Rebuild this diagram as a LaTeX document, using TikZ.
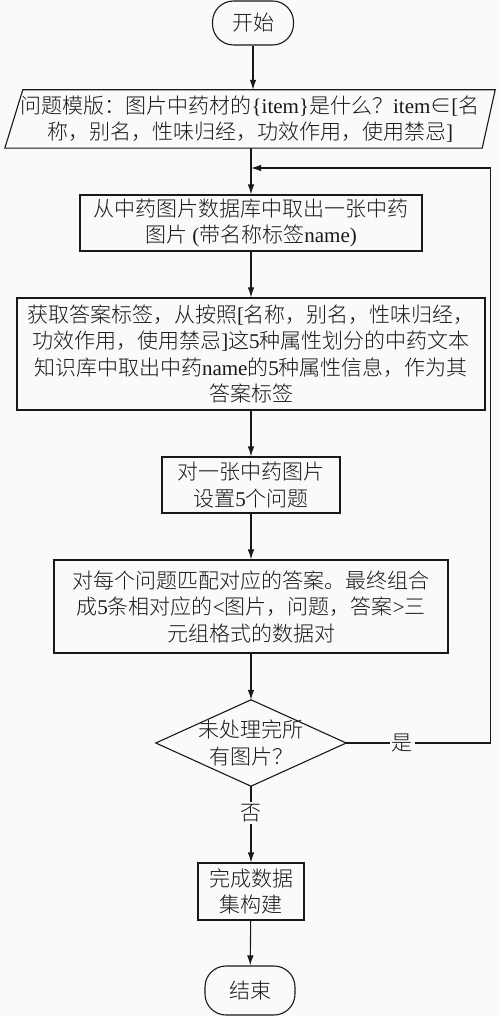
\documentclass[tikz,border=0pt]{standalone}
\usepackage{fontspec}
\setmainfont{Noto Sans CJK SC}[UprightFont=* Light]
\newfontfamily\latf{Liberation Serif}
\newcommand\lat[1]{{\latf #1}}
\usetikzlibrary{arrows.meta}
\definecolor{bg}{RGB}{252,249,249}
\definecolor{ink}{RGB}{25,25,25}
\begin{document}
\begin{tikzpicture}[x=1pt,y=-1pt,
  every node/.style={font=\fontsize{21}{26.5}\selectfont, text=ink},
  box/.style={draw=ink, line width=1.1pt, rectangle, inner sep=0pt, align=center},
  term/.style={box, rounded corners=21pt},
  plain/.style={rectangle, inner sep=0pt, align=center},
  outline/.style={draw=ink, line width=1.1pt},
  flow/.style={draw=ink, line width=1.1pt, -{Latex[length=10pt,width=6.5pt]}},
  lbl/.style={fill=bg, inner sep=2pt}]
\fill[bg] (0,0) rectangle (500,1016);
\useasboundingbox (0,0) rectangle (500,1016);

\node[term, minimum width=81pt, minimum height=44pt] (start) at (253,23) {开始};

\node[plain, minimum width=490pt, minimum height=58pt] (para) at (250,119)
  {问题模版：图片中药材的\lat{\{item\}}是什么？\lat{item}∈\lat{[}名\\
   称，别名，性味归经，功效作用，使用禁忌\lat{]}};
\draw[outline] ([xshift=18pt]para.north west) -- (para.north east)
  -- ([xshift=-13pt]para.south east) -- (para.south west) -- cycle;

\node[box, minimum width=342pt, minimum height=56pt] (box1) at (251,223)
  {从中药图片数据库中取出一张中药\\图片\lat{ (}带名称标签\lat{name)}};

\node[box, minimum width=468pt, minimum height=112pt] (box2) at (251,354)
  {获取答案标签，从按照\lat{[}名称，别名，性味归经，\\
   功效作用，使用禁忌\lat{]}这\lat{5}种属性划分的中药文本\\
   知识库中取出中药\lat{name}的\lat{5}种属性信息，作为其\\
   答案标签};

\node[box, minimum width=178pt, minimum height=56pt] (box3) at (251,485)
  {对一张中药图片\\设置\lat{5}个问题};

\node[box, minimum width=394pt, minimum height=93pt] (box4) at (251,606.5)
  {对每个问题匹配对应的答案。最终组合\\
   成\lat{5}条相对应的\lat{<}图片，问题，答案\lat{>}三\\
   元组格式的数据对};

\node[plain, minimum width=190pt, minimum height=86pt] (dia) at (251,743)
  {未处理完所\\有图片？};
\draw[outline] (dia.north) -- (dia.east) -- (dia.south) -- (dia.west) -- cycle;

\node[box, minimum width=106pt, minimum height=57pt] (box5) at (251,891.5)
  {完成数据\\集构建};

\node[term, minimum width=90pt, minimum height=49pt] (end) at (250,990.5) {结束};

\coordinate (j) at (251,168);

\draw[flow] (start.south) -- (start.south |- para.north);
\draw[flow] (box1.north |- para.south) -- (box1.north);
\draw[flow] (box1) -- (box2);
\draw[flow] (box2) -- (box3);
\draw[flow] (box3) -- (box4);
\draw[flow] (box4) -- (dia);
\draw[flow] (dia.east) -- node[lbl, pos=0.39] {是} ++(144,0) |- (j);
\draw[flow] (dia.south) -- node[lbl, pos=0.35] {否} (box5.north);
\draw[flow] (box5) -- (end);
\end{tikzpicture}
\end{document}
